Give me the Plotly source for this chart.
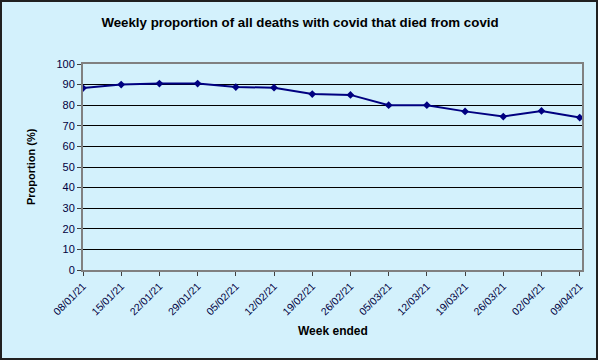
import plotly.graph_objects as go

weeks = ["08/01/21", "15/01/21", "22/01/21", "29/01/21", "05/02/21", "12/02/21", "19/02/21",
         "26/02/21", "05/03/21", "12/03/21", "19/03/21", "26/03/21", "02/04/21", "09/04/21"]
proportion = [88.3, 90.0, 90.5, 90.5, 88.8, 88.5, 85.4, 85.0, 80.0, 80.0, 77.0, 74.5, 77.2, 74.0]

bg = "#D3F1FC"
fig = go.Figure()
fig.add_trace(go.Scatter(
    x=list(range(len(weeks))), y=proportion, mode="lines+markers",
    line=dict(color="#000080", width=2),
    marker=dict(symbol="diamond", size=6, color="#000080"),
    showlegend=False,
))

L, R, T, B = 83, 16, 64, 90
W, H = 598, 360
pw = W - L - R
ph = H - T - B

def px_x(px):
    return (px - L) / pw

def px_y(py):
    return (H - B - py) / ph

fig.update_layout(
    width=W, height=H,
    margin=dict(l=L, r=R, t=T, b=B),
    paper_bgcolor=bg, plot_bgcolor=bg,
    font=dict(family="Liberation Sans, Arial, sans-serif", size=11, color="#000000"),
    title=dict(text="<b>Weekly proportion of all deaths with covid that died from covid</b>",
               x=300 / W, xanchor="center", y=1 - 22 / H, yanchor="middle",
               font=dict(size=13.3, color="#000000")),
    xaxis=dict(
        tickmode="array", tickvals=list(range(len(weeks))), ticktext=weeks,
        range=[0, 13.06], tickangle=-45, showgrid=False, automargin=False,
        showline=True, linecolor="#808080", linewidth=2, mirror=True,
        ticks="outside", ticklen=4, tickcolor="#404040",
        tickfont=dict(size=10.5, color="#000040"),
        zeroline=False,
    ),
    yaxis=dict(
        range=[0, 100], dtick=10, showgrid=True, gridcolor="#000000", gridwidth=1,
        showline=True, linecolor="#808080", linewidth=2, mirror=True, automargin=False,
        ticks="outside", ticklen=4, tickcolor="#404040",
        tickfont=dict(size=11, color="#000040"),
        zeroline=False,
    ),
    annotations=[
        dict(text="<b>Week ended</b>", xref="paper", yref="paper",
             x=px_x(333), y=px_y(331), xanchor="center", yanchor="middle",
             showarrow=False, font=dict(size=12, color="#000000")),
        dict(text="<b>Proportion (%)</b>", xref="paper", yref="paper",
             x=px_x(31), y=px_y(167), xanchor="center", yanchor="middle", textangle=-90,
             showarrow=False, font=dict(size=11, color="#000000")),
    ],
    shapes=[dict(type="rect", xref="paper", yref="paper",
                 x0=px_x(1), x1=px_x(W - 1),
                 y0=px_y(H - 1), y1=px_y(1),
                 line=dict(color="#202020", width=2), fillcolor="rgba(0,0,0,0)", layer="below")],
)

fig.write_html("out.html", config={"displayModeBar": False},
               post_script="document.body.style.margin='0';document.body.style.padding='0';document.body.style.overflow='hidden';")
